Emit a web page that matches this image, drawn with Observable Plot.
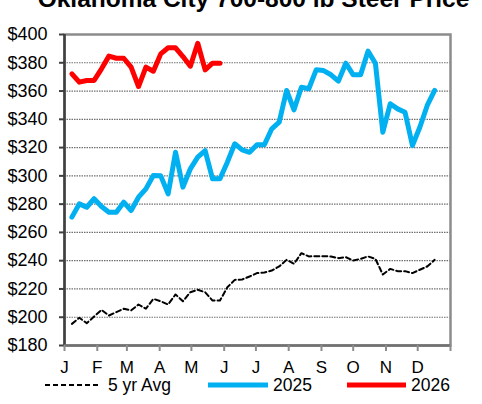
<!DOCTYPE html>
<html><head><meta charset="utf-8">
<script src="https://cdn.jsdelivr.net/npm/d3@7"></script>
<script src="https://cdn.jsdelivr.net/npm/@observablehq/plot@0.6"></script>
<style>
body{margin:0;background:#fff;}
#wrap{position:relative;width:482px;height:404px;overflow:hidden;font-family:"Liberation Sans",Arial,sans-serif;}
#wrap svg{position:absolute;left:0;top:0;}
</style></head><body><div id="wrap"></div>
<script>
const title = "Oklahoma City 700-800 lb Steer Price";
const monthLabels = ["J","F","M","A","M","J","J","A","S","O","N","D",""];
const monthStartDay = [0,31,59,90,120,151,181,212,243,273,304,334,365];
const yTicks = [180,200,220,240,260,280,300,320,340,360,380,400];
const gridTicks = [200,220,240,260,280,300,320,340,360,380];
const seriesNames = ["5 yr Avg","2025","2026"];
const seriesColors = ["#000000","#00B0F0","#FF0000"];

const avg5 = [195.3,199.6,195.8,200.5,205.2,201.2,203.6,206.0,204.8,209.0,
  206.0,213.0,211.3,209.0,216.1,211.3,217.7,219.4,217.7,211.8,
  211.8,221.2,226.4,226.7,228.8,231.2,231.6,233.0,235.9,240.6,
  237.8,245.3,243.0,243.2,243.2,243.0,241.8,242.5,240.1,241.3,
  243.0,241.3,230.2,234.2,232.6,232.6,231.2,233.6,235.9,240.6];
const y2025 = [270.8,280.2,277.8,283.8,278.3,274.3,274.3,281.4,275.5,284.9,
  290.8,300.3,300.0,287.3,316.7,292.0,305.0,313.2,317.9,297.9,
  297.9,309.7,322.7,318.4,316.7,322.0,322.0,333.3,338.0,360.4,
  346.7,362.7,361.6,375.0,374.5,371.5,367.0,379.7,371.5,371.5,
  388.2,379.7,330.9,351.0,347.4,345.0,321.5,334.4,349.8,360.4];
const y2026 = [372.2,366.3,367.5,367.5,375.7,384.7,383.2,383.2,376.9,363.2,
  376.9,374.0,386.3,390.6,390.6,384.4,377.6,393.8,375.0,379.7,379.7];

const rows = (arr) => arr.map((v,i) => ({week: i+1, value: v}));
const xTicks = monthStartDay.map(d => d/7);
const font = '"Liberation Sans", Arial, sans-serif';

const chart = Plot.plot({
  width: 482, height: 404,
  marginTop: 34, marginBottom: 59, marginLeft: 64, marginRight: 32,
  style: {fontFamily: font, fontSize: "17px", color: "#000", background: "transparent"},
  x: {domain: [0, 365/7]},
  y: {domain: [180, 400]},
  marks: [
    Plot.gridY(gridTicks, {stroke: "#707070", strokeOpacity: 1, strokeDasharray: "1.5,1", strokeWidth: 1.2}),
    Plot.frame({stroke: "#8c8c8c", strokeWidth: 2.5}),
    Plot.ruleX([0], {stroke: "#404040", strokeWidth: 2.5}),
    Plot.ruleY([180], {stroke: "#707070", strokeWidth: 2.5}),
    Plot.axisY(yTicks, {tickSize: 5, tickPadding: 12, tickFormat: d => "$" + d, stroke: "#404040", strokeWidth: 2, fontSize: 18, label: null}),
    Plot.axisX(xTicks, {tickSize: 6, tickPadding: 9, tickFormat: (d, i) => monthLabels[i], stroke: "#8c8c8c", strokeWidth: 2, fontSize: 17, label: null}),
    Plot.lineY(rows(avg5), {x: "week", y: "value", stroke: seriesColors[0], strokeWidth: 2, strokeDasharray: "5,3"}),
    Plot.lineY(rows(y2025), {x: "week", y: "value", stroke: seriesColors[1], strokeWidth: 5}),
    Plot.lineY(rows(y2026), {x: "week", y: "value", stroke: seriesColors[2], strokeWidth: 5})
  ]
});
const wrap = document.getElementById("wrap");
wrap.appendChild(chart);

// Overlay: title (cut off at top, as in the reference) and legend below the plot
const ov = d3.create("svg").attr("width", 482).attr("height", 404)
  .style("font-family", font);
ov.append("text").attr("x", 253.5).attr("y", 6.5).attr("text-anchor", "middle")
  .attr("font-weight", "bold").attr("font-size", 24.5).text(title);
const legendPos = [{x1: 45, x2: 100, tx: 108}, {x1: 208, x2: 268, tx: 273}, {x1: 347, x2: 406, tx: 411}];
seriesNames.forEach((name, i) => {
  const p = legendPos[i];
  ov.append("line").attr("x1", p.x1).attr("x2", p.x2).attr("y1", 385).attr("y2", 385)
    .attr("stroke", seriesColors[i]).attr("stroke-width", i === 0 ? 2 : 5)
    .attr("stroke-dasharray", i === 0 ? "5,3" : null);
  ov.append("text").attr("x", p.tx).attr("y", 385).attr("dy", "0.35em")
    .attr("font-size", 17.5).text(name);
});
wrap.appendChild(ov.node());
</script></body></html>
